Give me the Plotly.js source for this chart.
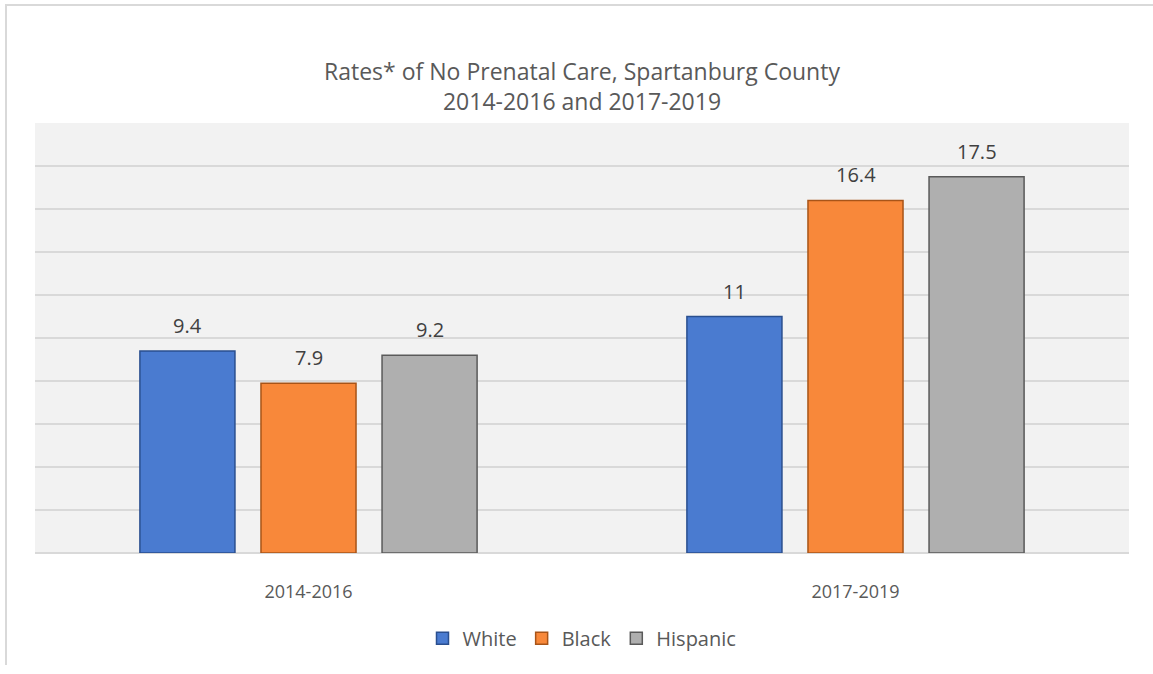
<!DOCTYPE html>
<html>
<head>
<meta charset="utf-8">
<script src="https://cdn.plot.ly/plotly-3.0.1.min.js"></script>
<style>
  html, body { margin: 0; padding: 0; background: #ffffff; }
  #chart { width: 1153px; height: 674px; position: absolute; left: 0; top: 0; }
  .bl { position: absolute; background: #d9d9d9; z-index: 5; }
</style>
</head>
<body>
<div id="chart"></div>
<div class="bl" style="left:5px; top:4px; width:1148px; height:2px;"></div>
<div class="bl" style="left:5px; top:4px; width:2px; height:661px;"></div>
<script>
const categories = ["2014-2016", "2017-2019"];
const seriesNames = ["White", "Black", "Hispanic"];
const whiteValues = [9.4, 11];
const blackValues = [7.9, 16.4];
const hispanicValues = [9.2, 17.5];

const fills = ["#4a7bd0", "#f8883a", "#afafaf"];
const edges = ["#2a4f8f", "#a85418", "#5a5a5a"];
const allValues = [whiteValues, blackValues, hispanicValues];

// bar layout parameters (fractions of a category slot)
const BARGAP = 0.336;
const BARGROUPGAP = 0.215;
const slot = (1 - BARGAP) / seriesNames.length;

const traces = seriesNames.map((name, i) => ({
  type: "bar",
  name: name,
  x: categories.map((c, k) => k),
  y: allValues[i],
  cliponaxis: false,
  marker: { color: fills[i], line: { color: edges[i], width: 1.5 } },
  hoverinfo: "skip"
}));

// value labels placed through the axes
const annotations = [];
allValues.forEach((vals, i) => {
  vals.forEach((v, k) => {
    annotations.push({
      x: k + (i - 1) * slot,
      y: v,
      xref: "x", yref: "y",
      text: String(v),
      showarrow: false,
      yanchor: "bottom",
      yshift: 10,
      font: { family: "Open Sans, sans-serif", size: 20, color: "#404040" }
    });
  });
});

const layout = {
  width: 1153,
  height: 674,
  margin: { l: 35, r: 24, t: 123, b: 121 },
  paper_bgcolor: "#ffffff",
  plot_bgcolor: "#f2f2f2",
  barmode: "group",
  bargap: BARGAP,
  bargroupgap: BARGROUPGAP,
  title: {
    text: "Rates* of No Prenatal Care, Spartanburg County<br>2014-2016 and 2017-2019",
    font: { family: "Open Sans, sans-serif", size: 23, color: "#595959" },
    x: 0.5, xanchor: "center", xref: "paper",
    y: 0.8806, yanchor: "middle", yref: "container"
  },
  xaxis: {
    type: "linear",
    range: [-0.5, 1.5],
    tickmode: "array",
    tickvals: categories.map((c, k) => k),
    ticktext: categories,
    showgrid: false,
    zeroline: false,
    showline: false,
    ticks: "outside",
    ticklen: 22,
    tickcolor: "rgba(0,0,0,0)",
    tickfont: { family: "Open Sans, sans-serif", size: 18, color: "#595959" }
  },
  yaxis: {
    range: [0, 20],
    dtick: 2,
    showticklabels: false,
    showgrid: true,
    gridcolor: "#d9d9d9",
    gridwidth: 1.5,
    zeroline: true,
    zerolinecolor: "#d9d9d9",
    zerolinewidth: 1.5,
    showline: false,
    ticks: ""
  },
  annotations: annotations,
  legend: {
    orientation: "h",
    x: 0.5, xanchor: "center",
    y: -0.198, yanchor: "middle",
    font: { family: "Open Sans, sans-serif", size: 20, color: "#595959" },
    itemclick: false, itemdoubleclick: false,
    itemwidth: 30,
    traceorder: "normal"
  },
  showlegend: true
};

Plotly.newPlot("chart", traces, layout, { displayModeBar: false, staticPlot: true });
</script>
</body>
</html>
